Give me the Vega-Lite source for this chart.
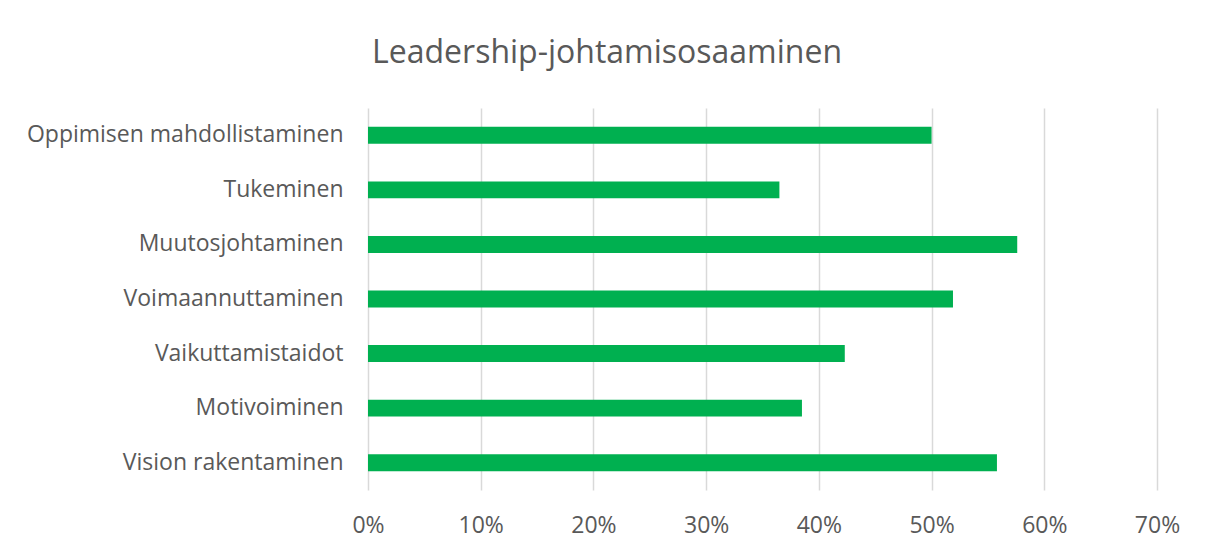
{
  "$schema": "https://vega.github.io/schema/vega-lite/v6.json",
  "autosize": {"type": "none"},
  "width": 789,
  "height": 382,
  "padding": {"left": 368, "top": 108, "right": 50, "bottom": 64},
  "background": "white",
  "title": {
    "text": "Leadership-johtamisosaaminen",
    "font": "Open Sans",
    "fontSize": 32,
    "fontWeight": "normal",
    "color": "#595959",
    "anchor": "middle",
    "frame": "bounds",
    "offset": 38,
    "dx": 4
  },
  "data": {
    "values": [
      {"kategoria": "Oppimisen mahdollistaminen", "osuus": 0.50},
      {"kategoria": "Tukeminen", "osuus": 0.365},
      {"kategoria": "Muutosjohtaminen", "osuus": 0.576},
      {"kategoria": "Voimaannuttaminen", "osuus": 0.519},
      {"kategoria": "Vaikuttamistaidot", "osuus": 0.423},
      {"kategoria": "Motivoiminen", "osuus": 0.385},
      {"kategoria": "Vision rakentaminen", "osuus": 0.558}
    ]
  },
  "mark": {"type": "bar", "color": "#00B050"},
  "encoding": {
    "y": {
      "field": "kategoria",
      "type": "nominal",
      "sort": null,
      "scale": {"paddingInner": 0.69, "paddingOuter": 0.345},
      "axis": {
        "title": null,
        "domain": false,
        "ticks": false,
        "grid": false,
        "labelFont": "Open Sans",
        "labelFontSize": 23,
        "labelColor": "#595959",
        "labelPadding": 25,
        "labelLimit": 400
      }
    },
    "x": {
      "field": "osuus",
      "type": "quantitative",
      "scale": {"domain": [0, 0.7], "nice": false},
      "axis": {
        "title": null,
        "format": ".0%",
        "values": [0, 0.1, 0.2, 0.3, 0.4, 0.5, 0.6, 0.7],
        "domain": false,
        "ticks": false,
        "grid": true,
        "gridColor": "#D9D9D9",
        "gridWidth": 1.5,
        "labelFont": "Open Sans",
        "labelFontSize": 23,
        "labelColor": "#595959",
        "labelPadding": 24,
        "labelFlush": false
      }
    }
  },
  "config": {"view": {"stroke": null}}
}
